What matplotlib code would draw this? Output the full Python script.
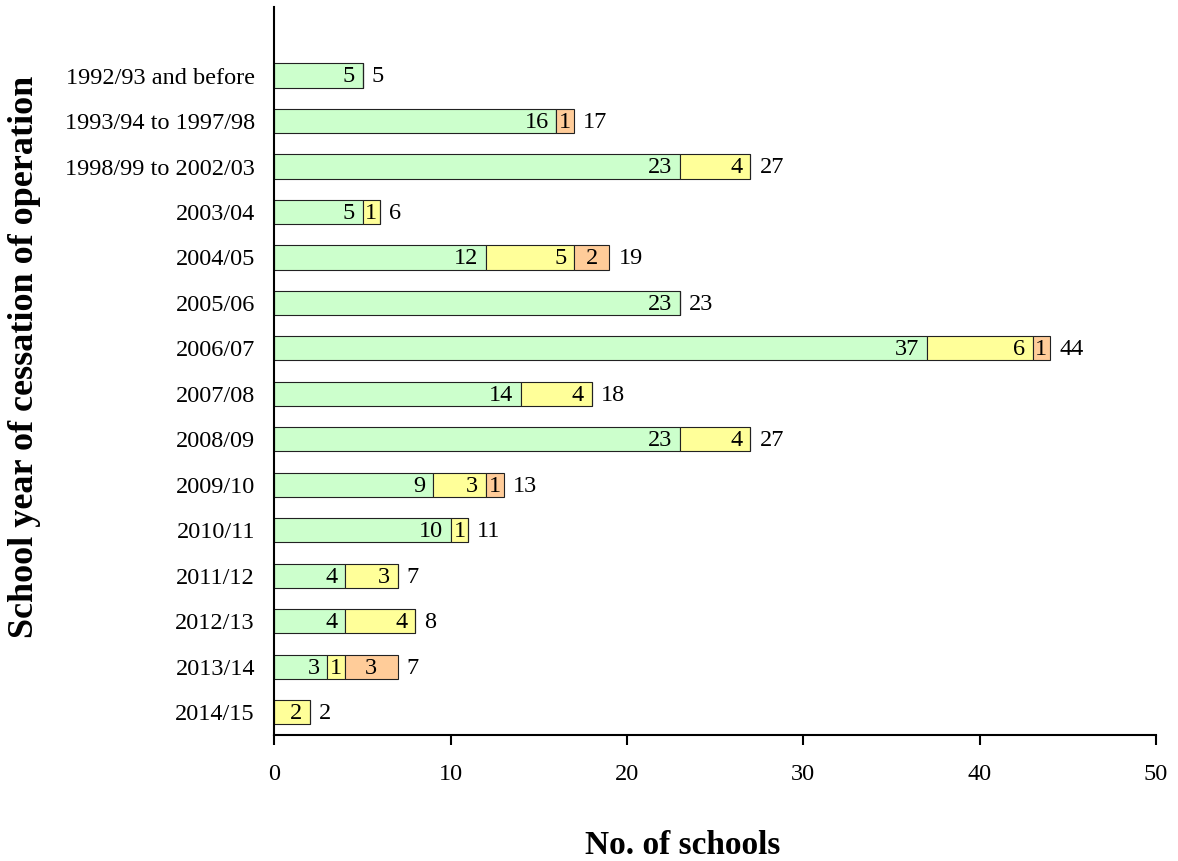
import matplotlib
matplotlib.use("Agg")
import matplotlib.pyplot as plt
import numpy as np

categories = ["1992/93 and before", "1993/94 to 1997/98", "1998/99 to 2002/03",
              "2003/04", "2004/05", "2005/06", "2006/07", "2007/08", "2008/09",
              "2009/10", "2010/11", "2011/12", "2012/13", "2013/14", "2014/15"]
series_a = [5, 16, 23, 5, 12, 23, 37, 14, 23, 9, 10, 4, 4, 3, 0]
series_b = [0, 0, 4, 1, 5, 0, 6, 4, 4, 3, 1, 3, 4, 1, 2]
series_c = [0, 1, 0, 0, 2, 0, 1, 0, 0, 1, 0, 0, 0, 3, 0]
x_ticks = [0, 10, 20, 30, 40, 50]

colors = ["#CCFFCC", "#FFFF99", "#FFCC99"]

plt.rcParams['font.family'] = ['Liberation Serif', 'DejaVu Serif']

fig = plt.figure(figsize=(11.78, 8.61), dpi=100)
ax = fig.add_axes([0.2329, 0.1463, 0.9813 - 0.2329, 0.9915 - 0.1463])

y = np.arange(len(categories))
left = np.zeros(len(categories))
FS = 17.5
DY = -1.0
for si, (vals, col) in enumerate(zip([series_a, series_b, series_c], colors)):
    vals = np.array(vals, dtype=float)
    ax.barh(y, vals, left=left, height=0.53, color=col, edgecolor="#222222",
            linewidth=0.8, zorder=2)
    for i, v in enumerate(vals):
        if v <= 0:
            continue
        if si == 2 or v <= 1:
            ax.annotate(f"{int(v)}", xy=(left[i] + v / 2, y[i]), xytext=(0, DY),
                        textcoords="offset points", ha="center",
                        va="center", fontsize=FS, zorder=3)
        else:
            ax.annotate(f"{int(v)}", xy=(left[i] + v, y[i]), xytext=(-5.5, DY),
                        textcoords="offset points", ha="right", va="center",
                        fontsize=FS, zorder=3)
    left = left + vals

totals = left
for i, t in enumerate(totals):
    ax.annotate(f"{int(t)}", xy=(t, y[i]), xytext=(6.5, DY), textcoords="offset points",
                ha="left", va="center", fontsize=FS)

ax.set_xlim(0, 50)
ax.set_ylim(14.5, -1.5)
ax.set_xticks(x_ticks)
ax.set_xticklabels([str(t) for t in x_ticks], fontsize=FS)
ax.set_yticks(y)
ax.set_yticklabels(categories, fontsize=FS)
ax.tick_params(axis="y", length=0, pad=14)
ax.tick_params(axis="x", length=7, width=1.5, direction="out", pad=14)
for s in ["top", "right"]:
    ax.spines[s].set_visible(False)
for s in ["left", "bottom"]:
    ax.spines[s].set_linewidth(1.5)
    ax.spines[s].set_color("black")

fig.text(683 / 1178, 1 - 845 / 861, "No. of schools", ha="center", va="center",
         fontsize=24, fontweight="bold")
fig.text(25 / 1178, 1 - 357 / 861, "School year of cessation of operation",
         ha="center", va="center", rotation=90, fontsize=26, fontweight="bold")

fig.savefig("out.png", dpi=100)
